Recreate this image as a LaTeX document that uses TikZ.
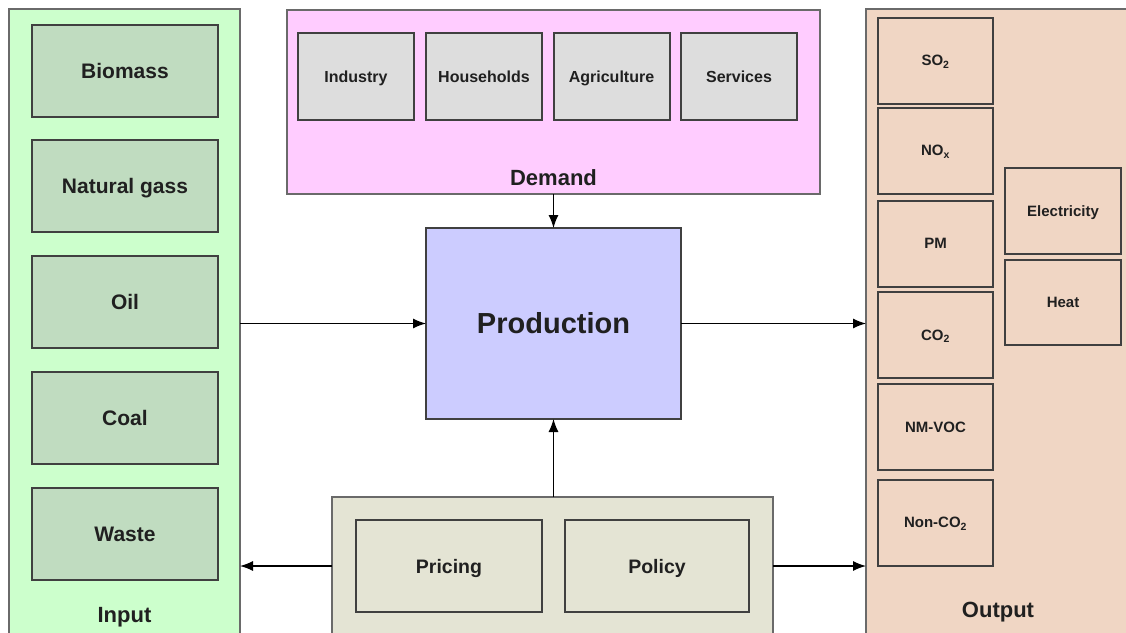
\documentclass[tikz,border=0pt]{standalone}
\usepackage{fontspec}
\setmainfont{Liberation Sans}
\usetikzlibrary{arrows.meta}
\definecolor{inpfill}{HTML}{CCFFCC}
\definecolor{inpbox}{HTML}{C0DCC0}
\definecolor{demfill}{HTML}{FFCCFF}
\definecolor{dembox}{HTML}{DDDDDD}
\definecolor{prodfill}{HTML}{CCCCFF}
\definecolor{botfill}{HTML}{E4E4D4}
\definecolor{outfill}{HTML}{F0D6C4}
\definecolor{boxline}{HTML}{404040}
\definecolor{panelline}{HTML}{6A6A6A}
\definecolor{txt}{HTML}{202020}
\begin{document}
\begin{tikzpicture}[x=1pt,y=-1pt,
  every node/.style={inner sep=0pt, outer sep=0pt, text=txt},
  panel/.style={draw=panelline, line width=1.6pt},
  bx/.style={draw=boxline, line width=2pt},
  bigbx/.style={bx, minimum width=186pt, minimum height=92pt, text height=15pt, text depth=0pt, font=\fontsize{21}{24}\selectfont\bfseries},
  dembx/.style={bx, fill=dembox, minimum width=116pt, minimum height=87pt, text height=11.5pt, text depth=0pt, font=\fontsize{16}{19}\selectfont\bfseries},
  outbx/.style={bx, fill=outfill, minimum width=115pt, minimum height=86pt, text height=10.8pt, text depth=0pt, font=\fontsize{15}{18}\selectfont\bfseries},
  polbx/.style={bx, fill=botfill, minimum height=92pt, text height=14pt, text depth=0pt, font=\fontsize{19.5}{23}\selectfont\bfseries},
  plabel/.style={font=\fontsize{22}{26}\selectfont\bfseries},
  arr/.style={-{Latex[length=13pt,width=10pt]}, line width=1.2pt, black}]
\useasboundingbox (0,0) rectangle (1126,632);
\clip (0,0) rectangle (1126,632);
\fill[white] (0,0) rectangle (1126,632);

% Input panel
\node[panel, fill=inpfill, minimum width=231pt, minimum height=651pt] (inp) at (124.5,334.5) {};
\node[bigbx, fill=inpbox] (bio) at (125,70.5) {Biomass};
\node[bigbx, fill=inpbox] (gas) at (125,186) {Natural gass};
\node[bigbx, fill=inpbox] (oil) at (125,302) {Oil};
\node[bigbx, fill=inpbox] (coal) at (125,418) {Coal};
\node[bigbx, fill=inpbox] (waste) at (125,534) {Waste};
\node[plabel] (inlab) at (124.5,617) {Input};

% Demand panel
\node[panel, fill=demfill, minimum width=533pt, minimum height=184pt] (dem) at (553.5,102) {};
\node[dembx] (ind) at (356,76.5) {Industry};
\node[dembx] (hh) at (484,76.5) {Households};
\node[dembx] (agr) at (611.5,76.5) {Agriculture};
\node[dembx] (ser) at (739,76.5) {Services};
\node[plabel] (demlab) at (553.5,178) {Demand};

% Production
\node[bx, fill=prodfill, minimum width=255pt, minimum height=191pt, font=\fontsize{29}{33}\selectfont\bfseries] (prod) at (553.5,323.5) {Production};

% Bottom panel
\node[panel, fill=botfill, minimum width=441pt, minimum height=163pt] (bot) at (552.5,578.5) {};
\node[polbx, minimum width=186pt] (pri) at (449,566) {Pricing};
\node[polbx, minimum width=184pt] (pol) at (657,566) {Policy};

% Output panel
\node[panel, fill=outfill, minimum width=274pt, minimum height=651pt] (out) at (1003,334.5) {};
\node[outbx] (so2) at (935.5,60.5) {SO\textsubscript{2}};
\node[outbx] (nox) at (935.5,150.5) {NO\textsubscript{x}};
\node[outbx] (pm) at (935.5,243.5) {PM};
\node[outbx] (co2) at (935.5,335) {CO\textsubscript{2}};
\node[outbx] (nmvoc) at (935.5,427) {NM-VOC};
\node[outbx] (nonco2) at (935.5,522.5) {Non-CO\textsubscript{2}};
\node[outbx, minimum width=116pt] (elec) at (1063,211) {Electricity};
\node[outbx, minimum width=116pt, minimum height=85pt] (heat) at (1063,302.5) {Heat};
\node[plabel] (outlab) at (998,612) {Output};

% Connectors
\draw[arr] (dem.south -| prod.north) -- (prod.north);
\draw[arr] (inp.east |- prod.west) -- (prod.west);
\draw[arr] (prod.east) -- (out.west |- prod.east);
\draw[arr] (bot.north -| prod.south) -- (prod.south);
\draw[arr] (bot.west |- pri.west) -- (inp.east |- pri.west);
\draw[arr] (bot.east |- pol.east) -- (out.west |- pol.east);
\end{tikzpicture}
\end{document}
